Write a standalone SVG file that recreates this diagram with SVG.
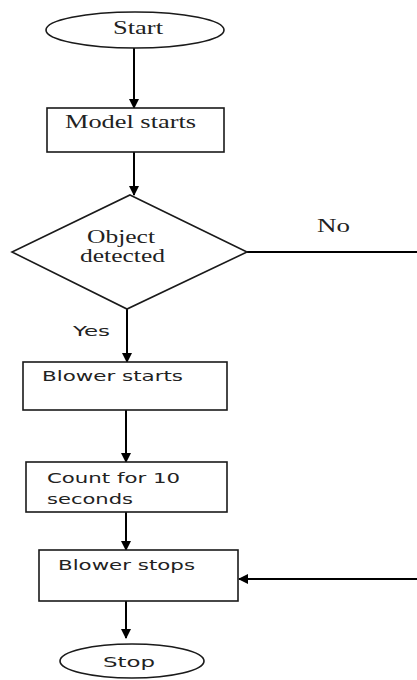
<svg xmlns="http://www.w3.org/2000/svg" width="417" height="680" viewBox="0 0 417 680">
<style>
.shape{fill:#fff;stroke:#1a1a1a;stroke-width:1.6}
.conn{fill:none;stroke:#000;stroke-width:2}
.serif{font-family:"Liberation Serif","Times New Roman",serif;font-size:18px;fill:#222}
.sans{font-family:"DejaVu Sans","Verdana",sans-serif;font-size:14px;fill:#222}
</style>
<defs>
<marker id="ah" markerWidth="10" markerHeight="10" refX="9" refY="5" orient="auto" markerUnits="userSpaceOnUse">
<path d="M0,0 L10,5 L0,10 Z" fill="#000"/>
</marker>
</defs>
<g id="connectors">
<line class="conn" x1="134" y1="48" x2="134" y2="108" marker-end="url(#ah)"/>
<line class="conn" x1="134" y1="152" x2="134" y2="195" marker-end="url(#ah)"/>
<line class="conn" x1="127" y1="309" x2="127" y2="362" marker-end="url(#ah)"/>
<line class="conn" x1="126" y1="410" x2="126" y2="462" marker-end="url(#ah)"/>
<line class="conn" x1="126" y1="512" x2="126" y2="550" marker-end="url(#ah)"/>
<line class="conn" x1="126" y1="601" x2="126" y2="638" marker-end="url(#ah)"/>
<path class="conn" d="M247,252 H420 V579" />
<line class="conn" x1="420" y1="579" x2="239" y2="579" marker-end="url(#ah)"/>
<text class="serif" x="317" y="232" textLength="33" lengthAdjust="spacingAndGlyphs">No</text>
<text class="sans" x="73" y="336" textLength="37" lengthAdjust="spacingAndGlyphs">Yes</text>
</g>
<g id="start">
<ellipse class="shape" cx="135" cy="30" rx="89" ry="18"/>
<text class="serif" x="113" y="34" textLength="50" lengthAdjust="spacingAndGlyphs">Start</text>
</g>
<g id="model">
<rect class="shape" x="47" y="108" width="177" height="44"/>
<text class="serif" x="65" y="128" textLength="131" lengthAdjust="spacingAndGlyphs">Model starts</text>
</g>
<g id="decision">
<polygon class="shape" points="130,195 247,252 127,309 12,252"/>
<text class="serif" x="87" y="243" textLength="68" lengthAdjust="spacingAndGlyphs">Object</text>
<text class="serif" x="80" y="262" textLength="85" lengthAdjust="spacingAndGlyphs">detected</text>
</g>
<g id="blower-starts">
<rect class="shape" x="23" y="362" width="204" height="48"/>
<text class="sans" x="42" y="381" textLength="141" lengthAdjust="spacingAndGlyphs">Blower starts</text>
</g>
<g id="count">
<rect class="shape" x="26" y="462" width="201" height="50"/>
<text class="sans" x="47" y="483" textLength="133" lengthAdjust="spacingAndGlyphs">Count for 10</text>
<text class="sans" x="47" y="504" textLength="86" lengthAdjust="spacingAndGlyphs">seconds</text>
</g>
<g id="blower-stops">
<rect class="shape" x="39" y="550" width="199" height="51"/>
<text class="sans" x="58" y="570" textLength="137" lengthAdjust="spacingAndGlyphs">Blower stops</text>
</g>
<g id="stop">
<ellipse class="shape" cx="132" cy="661" rx="72" ry="17"/>
<text class="sans" x="103" y="667" textLength="52" lengthAdjust="spacingAndGlyphs">Stop</text>
</g>
</svg>
